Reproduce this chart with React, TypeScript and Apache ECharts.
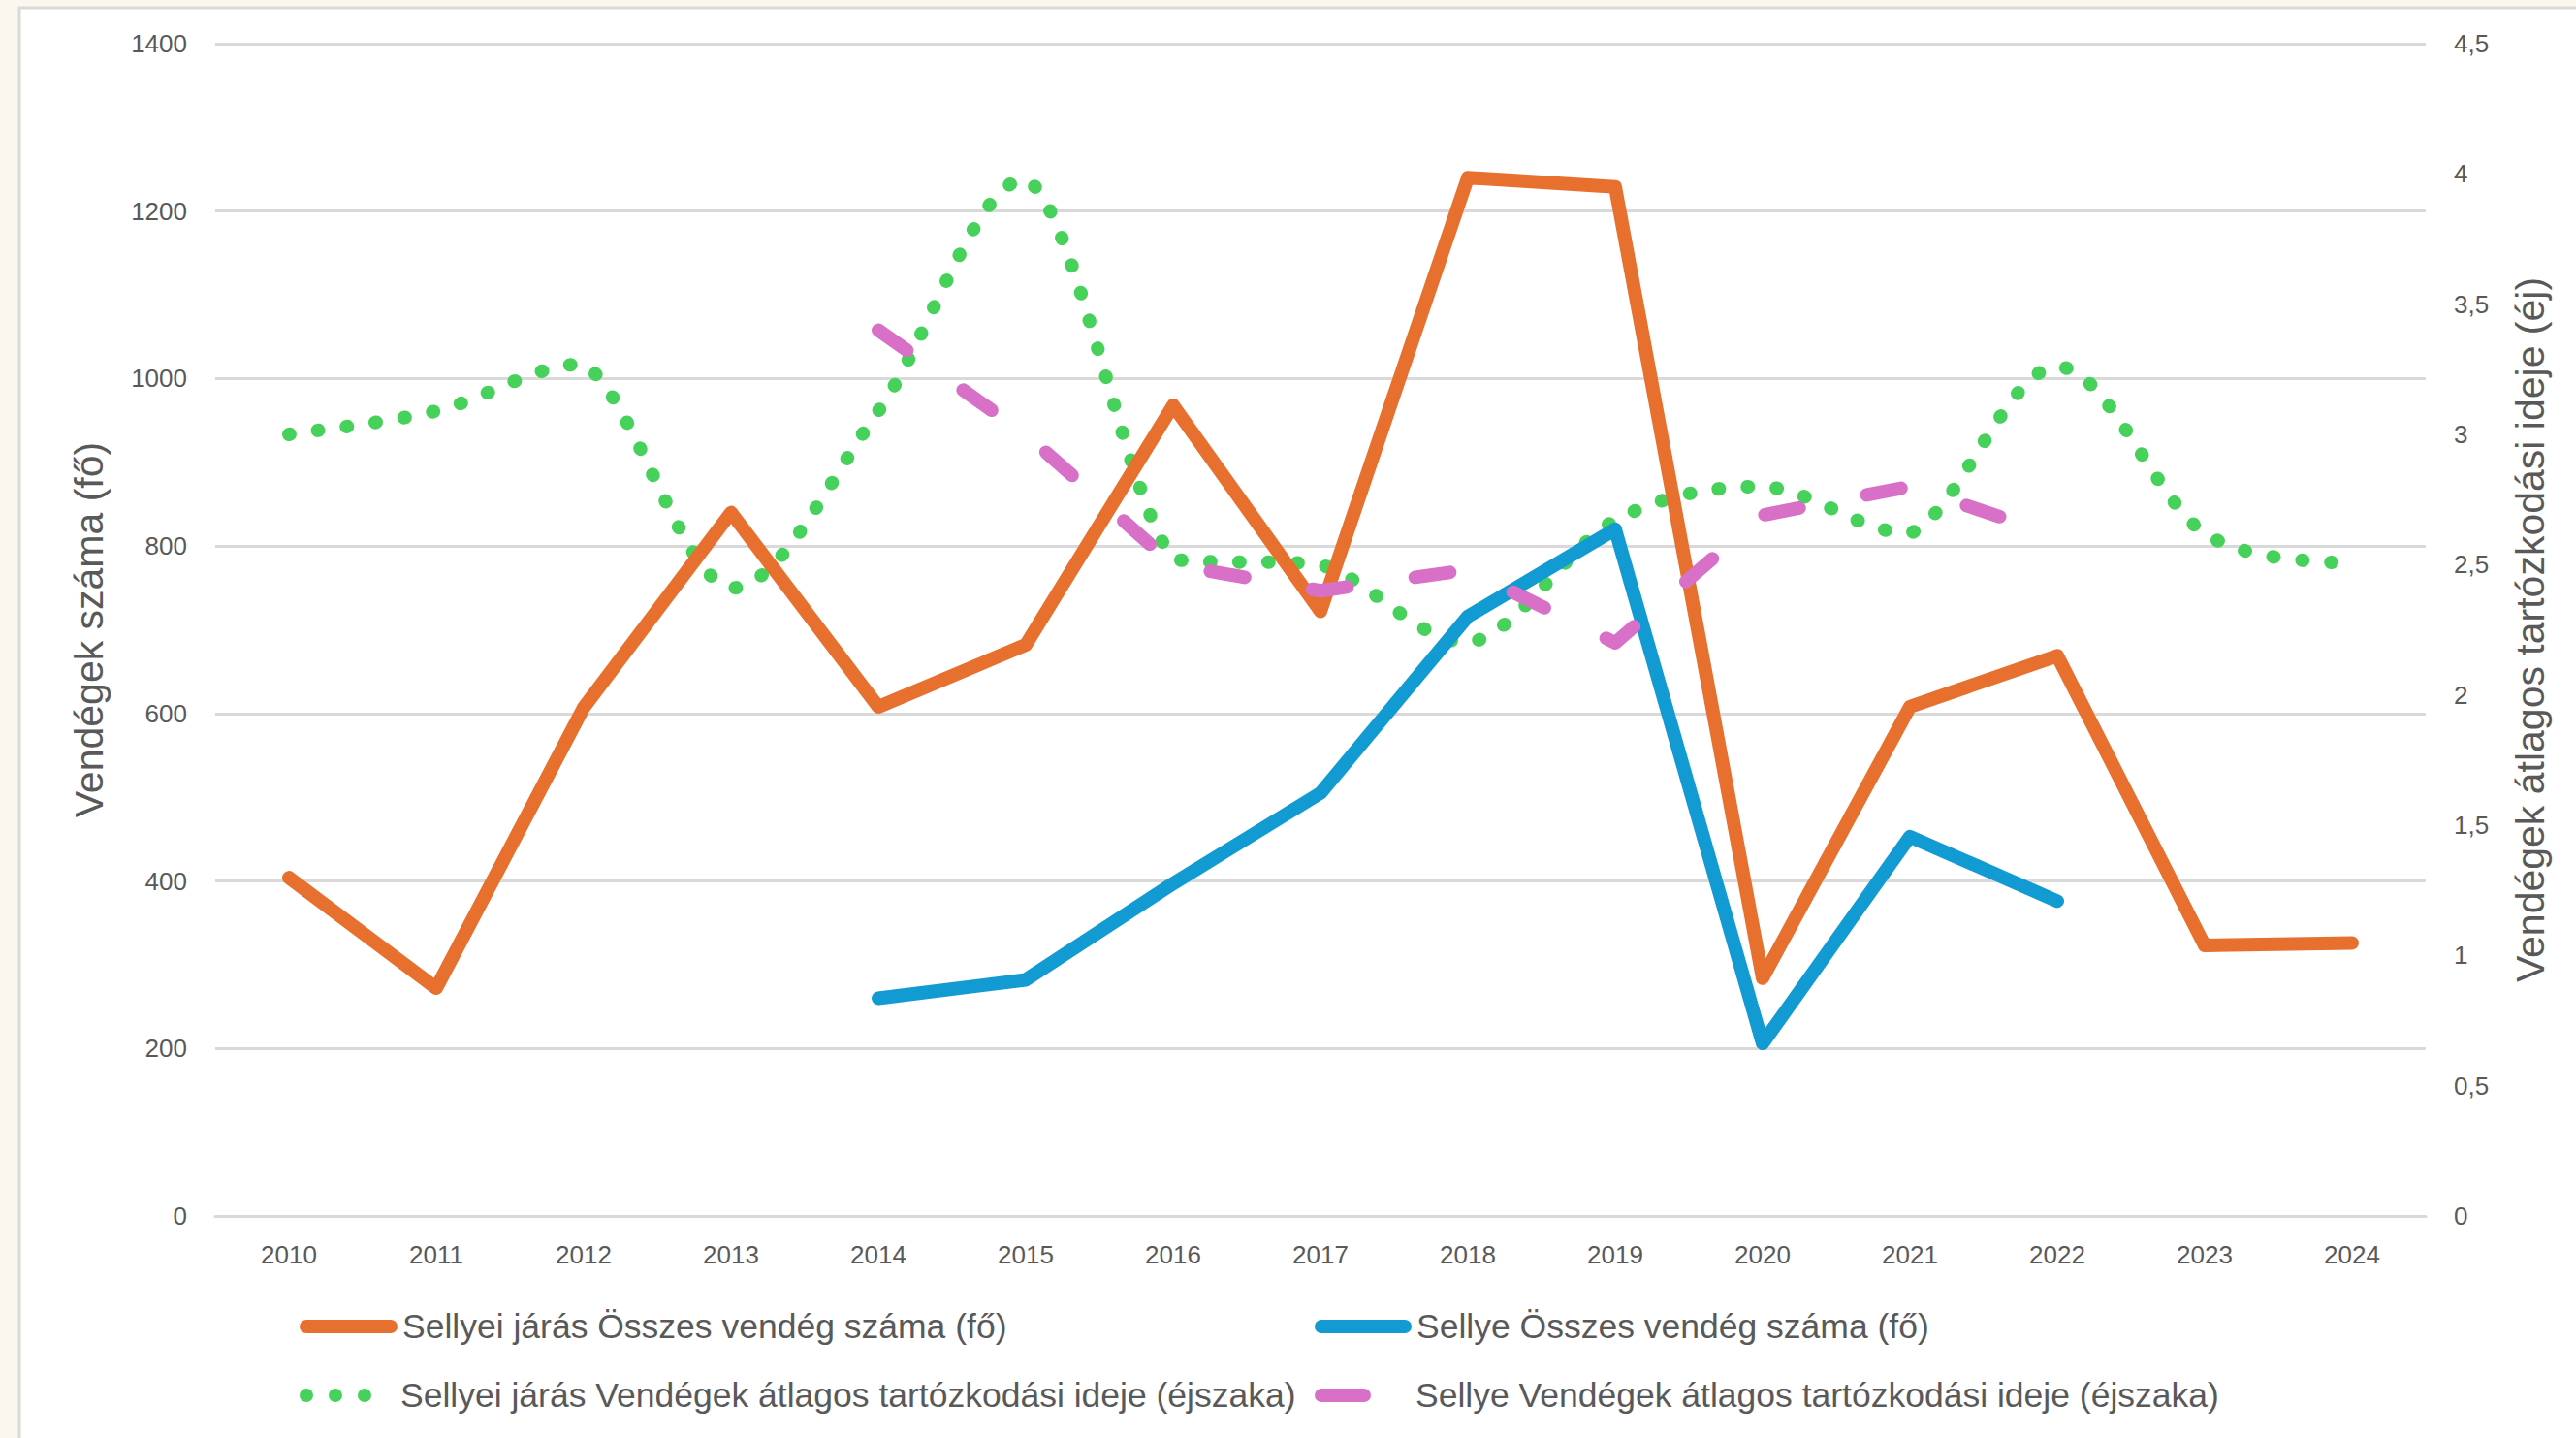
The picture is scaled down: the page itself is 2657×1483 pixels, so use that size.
import React, { useEffect, useRef } from "react";
import * as echarts from "echarts";

const years = ["2010", "2011", "2012", "2013", "2014", "2015", "2016", "2017", "2018", "2019", "2020", "2021", "2022", "2023", "2024"];
const jarasGuests = [404, 272, 607, 840, 608, 682, 968, 722, 1240, 1229, 284, 608, 669, 323, 326];
const sellyeGuests = [null, null, null, null, 260, 282, 397, 505, 716, 820, 206, 453, 376, null, null];
const jarasStay = [3.0, 3.09, 3.27, 2.41, 3.09, 3.98, 2.52, 2.5, 2.2, 2.67, 2.8, 2.62, 3.26, 2.62, 2.5];
const sellyeStay = [null, null, null, null, 3.4, 3.0, 2.5, 2.4, 2.48, 2.2, 2.69, 2.8, 2.61, null, null];

const seriesNames = [
  "Sellyei járás Összes vendég száma (fő)",
  "Sellye Összes vendég száma (fő)",
  "Sellyei járás Vendégek átlagos tartózkodási ideje (éjszaka)",
  "Sellye Vendégek átlagos tartózkodási ideje (éjszaka)",
];
const leftAxisTitle = "Vendégek száma (fő)";
const rightAxisTitle = "Vendégek átlagos tartózkodási ideje (éj)";

const ORANGE = "#E8702F";
const BLUE = "#129BD2";
const GREEN = "#46D25A";
const PINK = "#D870C8";
const TEXT = "#595959";
const GRID = "#D9D9D9";
const FONT = "'Liberation Sans', Arial, sans-serif";

function capsule(w: number, h: number) {
  const r = h / 2;
  return `path://M${r},0 L${w - r},0 A${r},${r} 0 0 1 ${w - r},${h} L${r},${h} A${r},${r} 0 0 1 ${r},0 Z`;
}
const dotsIcon =
  "path://M0,7 A7,7 0 1 0 14,7 A7,7 0 1 0 0,7 Z M30,7 A7,7 0 1 0 44,7 A7,7 0 1 0 30,7 Z M60,7 A7,7 0 1 0 74,7 A7,7 0 1 0 60,7 Z";

const clamp = (v: number, a: number, b: number) => Math.min(Math.max(v, Math.min(a, b)), Math.max(a, b));

// Smooth curve through the axis-mapped points (cardinal spline, control points kept inside each segment)
function smoothPath(pts: number[][]) {
  const n = pts.length;
  let d = `M${pts[0][0]},${pts[0][1]}`;
  for (let i = 0; i < n - 1; i++) {
    const p0 = pts[Math.max(0, i - 1)];
    const p1 = pts[i];
    const p2 = pts[i + 1];
    const p3 = pts[Math.min(n - 1, i + 2)];
    const c1x = p1[0] + (p2[0] - p0[0]) / 6;
    const c1y = clamp(p1[1] + (p2[1] - p0[1]) / 6, p1[1], p2[1]);
    const c2x = p2[0] - (p3[0] - p1[0]) / 6;
    const c2y = clamp(p2[1] - (p3[1] - p1[1]) / 6, p1[1], p2[1]);
    d += ` C${c1x},${c1y} ${c2x},${c2y} ${p2[0]},${p2[1]}`;
  }
  return d;
}

export default function App() {
  const ref = useRef<HTMLDivElement>(null);
  useEffect(() => {
    document.body.style.margin = "0";
    if (!ref.current) return;
    const chart = echarts.init(ref.current, null, { renderer: "svg" });
    const legendText = { fontSize: 35.5, color: TEXT, fontFamily: FONT };
    const legendBase = {
      orient: "horizontal" as const,
      padding: 0,
      itemHeight: 14,
      selectedMode: false,
      itemStyle: { borderWidth: 0 },
    };
    chart.setOption({
      animation: false,
      backgroundColor: "#FAF7EE",
      graphic: [
        {
          type: "rect",
          z: -10,
          shape: { x: 20, y: 8, width: 2700, height: 1520 },
          style: { fill: "#FFFFFF", stroke: GRID, lineWidth: 3 },
        },
      ],
      grid: { left: 222, right: 155, top: 45, bottom: 229, containLabel: false },
      legend: [
        {
          ...legendBase,
          left: 309,
          top: 1350,
          itemWidth: 101,
          icon: capsule(101, 14),
          data: [{ name: seriesNames[0], itemStyle: { color: ORANGE } }],
          textStyle: { ...legendText },
        },
        {
          ...legendBase,
          left: 1356,
          top: 1350,
          itemWidth: 100,
          icon: capsule(100, 14),
          data: [{ name: seriesNames[1], itemStyle: { color: BLUE } }],
          textStyle: { ...legendText },
        },
        {
          ...legendBase,
          left: 309,
          top: 1421,
          itemWidth: 74,
          icon: dotsIcon,
          data: [{ name: seriesNames[2], itemStyle: { color: GREEN } }],
          textStyle: { ...legendText, padding: [0, 0, 0, 25] },
        },
        {
          ...legendBase,
          left: 1356,
          top: 1421,
          itemWidth: 58,
          icon: capsule(58, 14),
          data: [{ name: seriesNames[3], itemStyle: { color: PINK } }],
          textStyle: { ...legendText, padding: [0, 0, 0, 41] },
        },
      ],
      xAxis: {
        type: "category",
        data: years,
        boundaryGap: true,
        axisTick: { show: false },
        axisLine: { show: true, lineStyle: { color: GRID, width: 3 } },
        axisLabel: { fontSize: 26, color: TEXT, fontFamily: FONT, margin: 27 },
      },
      yAxis: [
        {
          type: "value",
          min: 0,
          max: 1400,
          interval: 200,
          position: "left",
          axisLine: { show: false },
          axisTick: { show: false },
          splitLine: { show: true, lineStyle: { color: GRID, width: 3 } },
          axisLabel: {
            fontSize: 26,
            color: TEXT,
            fontFamily: FONT,
            margin: 29,
            formatter: (v: number) => String(v),
          },
          name: leftAxisTitle,
          nameLocation: "middle",
          nameRotate: 90,
          nameGap: 110,
          nameTextStyle: { fontSize: 41, color: TEXT, fontFamily: FONT },
        },
        {
          type: "value",
          min: 0,
          max: 4.5,
          interval: 0.5,
          position: "right",
          axisLine: { show: false },
          axisTick: { show: false },
          splitLine: { show: false },
          axisLabel: {
            fontSize: 26,
            color: TEXT,
            fontFamily: FONT,
            margin: 29,
            formatter: (v: number) => String(v).replace(".", ","),
          },
          name: rightAxisTitle,
          nameLocation: "middle",
          nameRotate: 90,
          nameGap: 87,
          nameTextStyle: { fontSize: 41, color: TEXT, fontFamily: FONT },
        },
      ],
      series: [
        {
          name: seriesNames[0],
          type: "line",
          yAxisIndex: 0,
          data: jarasGuests,
          symbol: "none",
          itemStyle: { color: ORANGE },
          lineStyle: { color: ORANGE, width: 14, cap: "round", join: "round" },
        },
        {
          name: seriesNames[1],
          type: "line",
          yAxisIndex: 0,
          data: sellyeGuests,
          symbol: "none",
          itemStyle: { color: BLUE },
          lineStyle: { color: BLUE, width: 14, cap: "round", join: "round" },
        },
        {
          name: seriesNames[2],
          type: "custom",
          yAxisIndex: 1,
          coordinateSystem: "cartesian2d",
          data: jarasStay.map((v, i) => [i, v]),
          encode: { x: 0, y: 1 },
          itemStyle: { color: GREEN },
          renderItem: (params: any, api: any) => {
            if (params.dataIndex !== 0) return null;
            const pts = jarasStay.map((v, i) => api.coord([i, v]));
            return {
              type: "path",
              shape: { pathData: smoothPath(pts) },
              style: {
                fill: "none",
                stroke: GREEN,
                lineWidth: 14,
                lineDash: [1, 29],
                lineCap: "round",
                lineJoin: "round",
              },
            };
          },
        },
        {
          name: seriesNames[3],
          type: "line",
          yAxisIndex: 1,
          data: sellyeStay,
          symbol: "none",
          itemStyle: { color: PINK },
          lineStyle: { color: PINK, width: 14, type: [36, 71], cap: "round", join: "round" },
        },
      ],
    });
    return () => chart.dispose();
  }, []);
  return (
    <div
      ref={ref}
      style={{ position: "absolute", left: 0, top: 0, width: 2657, height: 1483 }}
    />
  );
}
